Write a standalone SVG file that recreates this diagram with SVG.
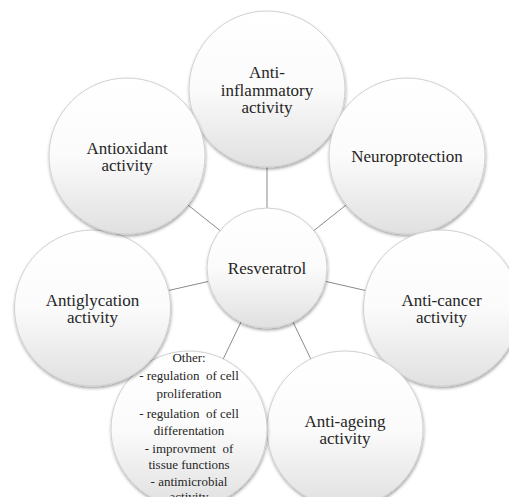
<svg xmlns="http://www.w3.org/2000/svg" width="509" height="497" viewBox="0 0 509 497">
<defs>
<linearGradient id="g" x1="0" y1="0" x2="0" y2="1">
<stop offset="0" stop-color="#ffffff"/>
<stop offset="0.5" stop-color="#fbfbfb"/>
<stop offset="1" stop-color="#e0e0e0"/>
</linearGradient>
<filter id="sh" x="-20%" y="-20%" width="140%" height="140%">
<feDropShadow dx="0.5" dy="2" stdDeviation="1.5" flood-color="#000" flood-opacity="0.35"/>
</filter>
</defs>
<style>
.c{fill:url(#g);stroke:#d0d0d0;stroke-width:1;filter:url(#sh)}
.t{font-size:17px;fill:#262626;text-anchor:middle}
.s{font-size:13px;fill:#262626;text-anchor:middle}
.l{stroke:#8a8a8a;stroke-width:1;fill:none}
</style>
<rect width="509" height="497" fill="#ffffff"/>
<g id="connectors">
<line class="l" x1="267" y1="208" x2="267" y2="167"/>
<line class="l" x1="313.9" y1="230.6" x2="346" y2="205"/>
<line class="l" x1="325.5" y1="281.4" x2="365.5" y2="290.5"/>
<line class="l" x1="293" y1="322" x2="310.8" y2="359"/>
<line class="l" x1="241" y1="322" x2="223.2" y2="359"/>
<line class="l" x1="208.5" y1="281.4" x2="168.5" y2="290.5"/>
<line class="l" x1="220.1" y1="230.6" x2="188" y2="205"/>
</g>
<g font-family="Liberation Serif, DejaVu Serif, serif">
<g id="resveratrol">
<circle class="c" cx="267" cy="268" r="60"/>
<text class="t" x="267" y="274">Resveratrol</text>
</g>
<g id="anti-inflammatory">
<circle class="c" cx="267" cy="89" r="78"/>
<text class="t" x="267" y="78">Anti-</text>
<text class="t" x="267" y="95.5">inflammatory</text>
<text class="t" x="267" y="113">activity</text>
</g>
<g id="neuroprotection">
<circle class="c" cx="407" cy="156" r="78"/>
<text class="t" x="407" y="162">Neuroprotection</text>
</g>
<g id="anti-cancer">
<circle class="c" cx="441.5" cy="308" r="78"/>
<text class="t" x="441.5" y="305.5">Anti-cancer</text>
<text class="t" x="441.5" y="322.5">activity</text>
</g>
<g id="anti-ageing">
<circle class="c" cx="345" cy="429" r="78"/>
<text class="t" x="345" y="426.5">Anti-ageing</text>
<text class="t" x="345" y="443.5">activity</text>
</g>
<g id="other">
<circle class="c" cx="189" cy="429" r="78"/>
<text class="s" x="189" y="362">Other:</text>
<text class="s" x="189" y="380" xml:space="preserve">- regulation  of cell</text>
<text class="s" x="189" y="398">proliferation</text>
<text class="s" x="189" y="418" xml:space="preserve">- regulation  of cell</text>
<text class="s" x="189" y="435">differentation</text>
<text class="s" x="189" y="453" xml:space="preserve">- improvment  of</text>
<text class="s" x="189" y="469">tissue functions</text>
<text class="s" x="189" y="486">- antimicrobial</text>
<text class="s" x="189" y="501">activity</text>
</g>
<g id="antiglycation">
<circle class="c" cx="92.5" cy="308" r="78"/>
<text class="t" x="92.5" y="305.5">Antiglycation</text>
<text class="t" x="92.5" y="322.5">activity</text>
</g>
<g id="antioxidant">
<circle class="c" cx="127" cy="156" r="78"/>
<text class="t" x="127" y="153.5">Antioxidant</text>
<text class="t" x="127" y="170.5">activity</text>
</g>
</g>
</svg>
